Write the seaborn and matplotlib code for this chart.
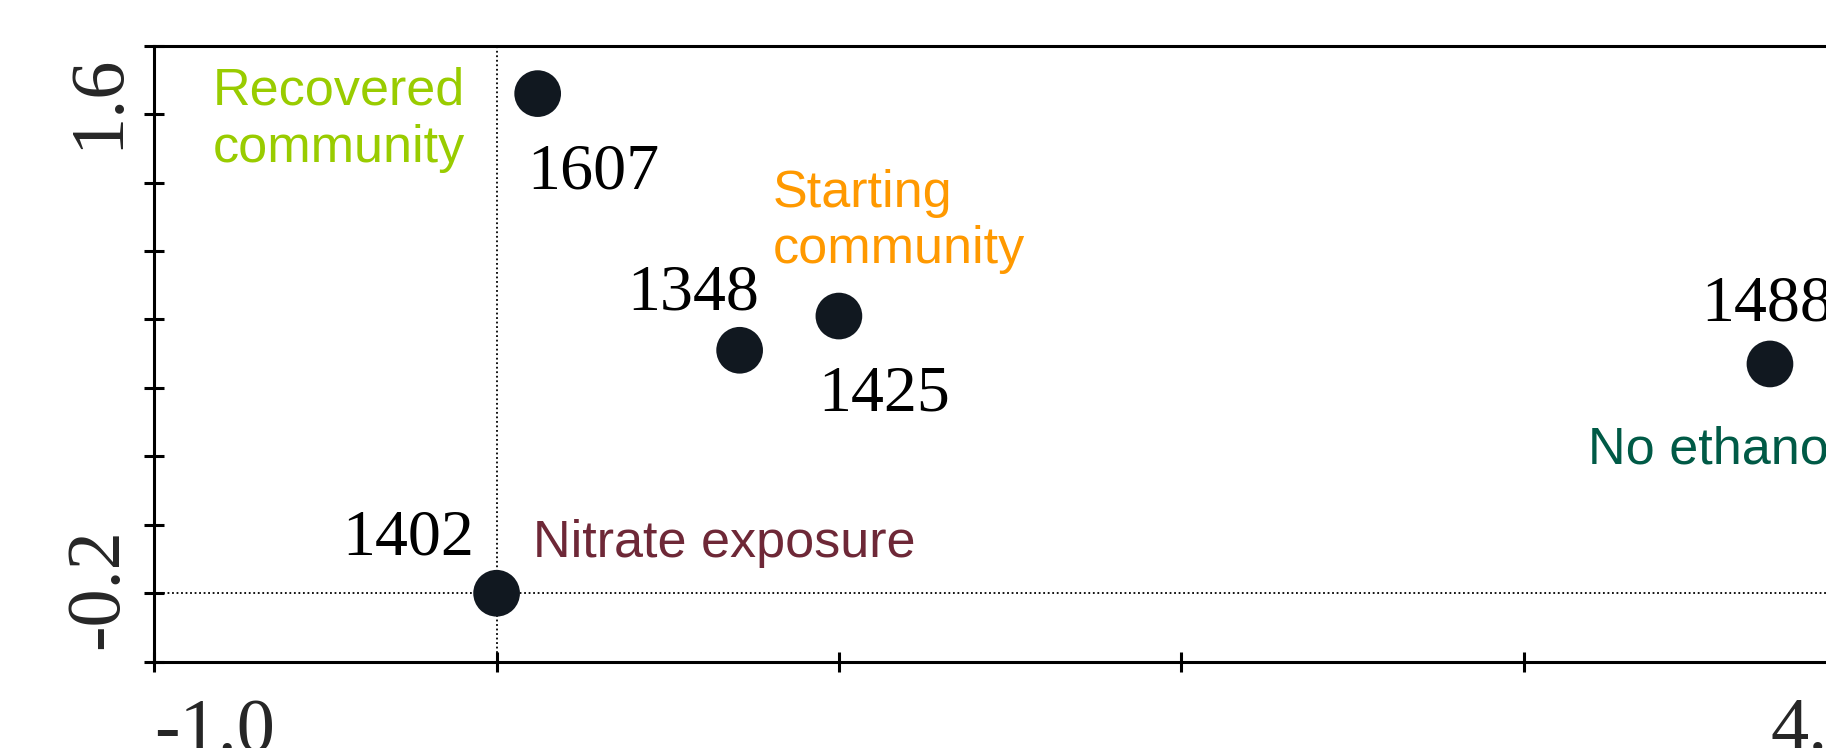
import matplotlib
matplotlib.use('Agg')
import matplotlib.pyplot as plt
import seaborn as sns
import pandas as pd

# sample scores (axis 1 / axis 2)
samples = ['1607', '1348', '1425', '1402', '1488']
axis1 = [0.12, 0.71, 1.0, 0.0, 3.72]
axis2 = [1.46, 0.71, 0.81, 0.0, 0.67]

# group labels written on the plot
groups = ['Recovered\ncommunity', 'Starting\ncommunity', 'Nitrate exposure', 'No ethanol']
group_colors = ['#99CC00', '#FF9900', '#6E2837', '#005A46']
group_x = [-0.093, 0.806, 0.105, 3.187]
group_y = [1.538, 1.241, 0.107, 0.378]

# offsets (points) and alignment of the sample numbers
label_pos = {
    '1607': (-7.7, -68.4, 'left'),
    '1348': (13.7, 29.5, 'right'),
    '1425': (-14.9, -67.7, 'left'),
    '1402': (-16.3, 27.6, 'right'),
    '1488': (-49.2, 31.2, 'left'),
}

df = pd.DataFrame({'sample': samples, 'ax1': axis1, 'ax2': axis2})

sns.set_style('white')
plt.rcParams['font.family'] = ['Liberation Serif', 'DejaVu Serif']

fig = plt.figure(figsize=(18.26, 7.48), dpi=100)
ax = fig.add_axes([0.0845, 0.1154, 0.9373, 0.8235])

ax.axvline(0, color='black', lw=1.3, ls=(0, (1, 1.5)), zorder=1)
ax.axhline(0, color='black', lw=1.3, ls=(0, (1, 1.5)), zorder=1)

sns.scatterplot(data=df, x='ax1', y='ax2', s=1130, color='#111820',
                edgecolor='none', linewidth=0, ax=ax, zorder=3, legend=False)

ax.set_xlim(-1.0, 4.0)
ax.set_ylim(-0.2, 1.6)
ax.set_xticks([-1, 0, 1, 2, 3, 4])
ax.set_yticks([-0.2, 0.0, 0.2, 0.4, 0.6, 0.8, 1.0, 1.2, 1.4, 1.6])
ax.set_xticklabels([])
ax.set_yticklabels([])
ax.tick_params(bottom=True, left=True, direction='inout', length=14,
               width=2.2, color='black')
for side in ['left', 'top', 'bottom', 'right']:
    ax.spines[side].set_linewidth(2.2)
    ax.spines[side].set_color('black')
ax.set_xlabel('')
ax.set_ylabel('')

# axis end labels
ax.annotate('-1.0', xy=(-1.0, 0), xycoords=('data', 'axes fraction'),
            xytext=(0, -26.1), textcoords='offset points',
            ha='left', va='top', fontsize=55)
ax.annotate('4.0', xy=(4.0, 0), xycoords=('data', 'axes fraction'),
            xytext=(0, -25.2), textcoords='offset points',
            ha='right', va='top', fontsize=55)
ax.annotate('1.6', xy=(0, 1.6), xycoords=('axes fraction', 'data'),
            xytext=(-14.9, -6.0), textcoords='offset points',
            ha='right', va='top', rotation=90, fontsize=55)
ax.annotate('-0.2', xy=(0, -0.2), xycoords=('axes fraction', 'data'),
            xytext=(-14.9, 9.1), textcoords='offset points',
            ha='right', va='bottom', rotation=90, fontsize=55)

# sample numbers
for s, x, y in zip(samples, axis1, axis2):
    dx, dy, ha = label_pos[s]
    ax.annotate(s, xy=(x, y), xytext=(dx, dy), textcoords='offset points',
                ha=ha, va='baseline', fontsize=47.5, color='black')

# group names
aligns = [('right', 'top'), ('left', 'top'), ('left', 'baseline'), ('left', 'baseline')]
for txt, c, x, y, (ha, va) in zip(groups, group_colors, group_x, group_y, aligns):
    ax.text(x, y, txt, color=c, fontsize=37.5, ha=ha, va=va,
            family=['Liberation Sans', 'DejaVu Sans'], multialignment=ha)

fig.savefig('out.png', dpi=100)
